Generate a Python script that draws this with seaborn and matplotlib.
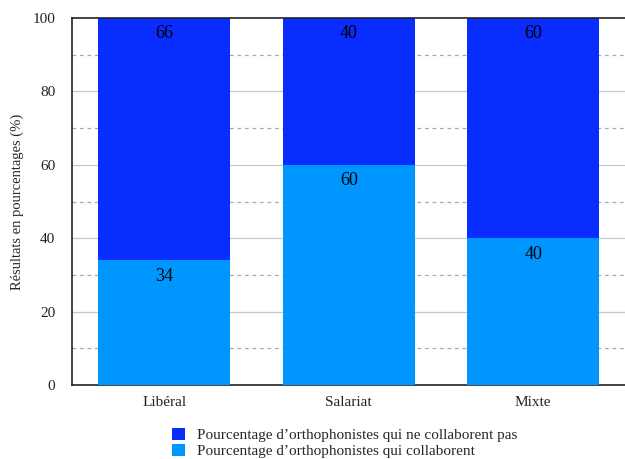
import matplotlib
matplotlib.use("Agg")
import matplotlib.pyplot as plt
from matplotlib.patches import Patch
import seaborn as sns
import pandas as pd

# Mode d'exercice et répartition (%)
categories = ["Libéral", "Salariat", "Mixte"]
collaborent = [34, 60, 40]
ne_collaborent_pas = [66, 40, 60]

label_non = "Pourcentage d\u2019orthophonistes qui ne collaborent pas"
label_oui = "Pourcentage d\u2019orthophonistes qui collaborent"

col_non = "#0a2dff"
col_oui = "#0096ff"

sns.set_theme(style="white")
plt.rcParams["font.family"] = ["Liberation Serif", "DejaVu Serif"]

df = pd.DataFrame({
    "mode": categories,
    "oui": collaborent,
    "non": ne_collaborent_pas,
})
df["total"] = df["oui"] + df["non"]

fig = plt.figure(figsize=(6.25, 4.59), dpi=100)
ax = fig.add_axes([72 / 625, 1 - 385 / 459, (625.5 - 72) / 625, (385 - 18) / 459])

# grid: solid at multiples of 20, dashed in between
for v in range(20, 100, 20):
    ax.axhline(v, color="#c8c8c8", lw=0.9, zorder=0)
for v in range(10, 100, 20):
    ax.axhline(v, color="#a8a8a8", lw=0.9, ls=(0, (3, 3)), zorder=0)

sns.barplot(data=df, x="mode", y="total", color=col_non, width=0.716,
            saturation=1, ax=ax, zorder=2, linewidth=0)
sns.barplot(data=df, x="mode", y="oui", color=col_oui, width=0.716,
            saturation=1, ax=ax, zorder=3, linewidth=0)

for i, (o, n) in enumerate(zip(collaborent, ne_collaborent_pas)):
    ax.annotate(f"{n}", xy=(i, o + n), xytext=(0, -11.5), textcoords="offset points",
                ha="center", va="center", fontsize=13, color="black", zorder=5)
    ax.annotate(f"{o}", xy=(i, o), xytext=(0, -11.5), textcoords="offset points",
                ha="center", va="center", fontsize=13, color="black", zorder=5)

ax.set_xlim(-0.5, 2.5)
ax.set_ylim(0, 100)
ax.set_yticks([0, 20, 40, 60, 80, 100])
ax.tick_params(axis="both", length=0, labelsize=11, colors="#222222")
ax.tick_params(axis="y", pad=12)
ax.tick_params(axis="x", pad=8)
ax.set_xlabel("")
ax.set_ylabel("Résultats en pourcentages (%)", fontsize=10.5, labelpad=6)

for s in ["top", "left", "bottom"]:
    ax.spines[s].set_visible(True)
    ax.spines[s].set_color("#222222")
    ax.spines[s].set_linewidth(1.2)
ax.spines["right"].set_visible(False)

handles = [Patch(facecolor=col_non, edgecolor="none", label=label_non),
           Patch(facecolor=col_oui, edgecolor="none", label=label_oui)]
fig.legend(handles=handles, loc="center", bbox_to_anchor=(345 / 625, 1 - 443 / 459),
           frameon=False, fontsize=11, handlelength=0.85, handleheight=0.85,
           handletextpad=0.8, labelspacing=0.12, borderaxespad=0, borderpad=0.2)

fig.savefig("out.png", dpi=100)
